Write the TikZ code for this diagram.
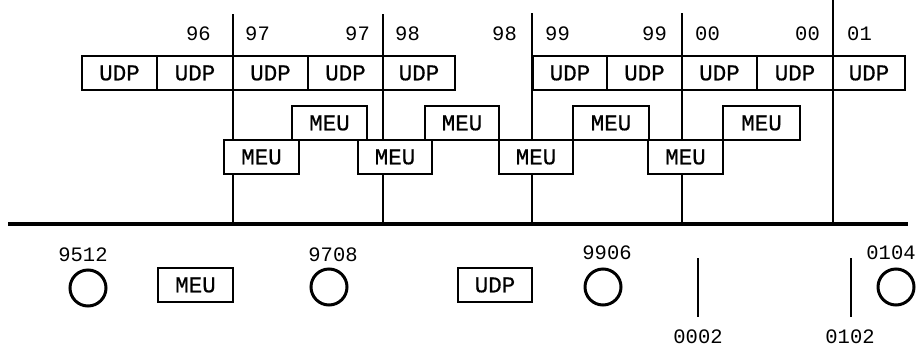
\documentclass[tikz,border=0pt]{standalone}
\usepackage{fontspec}
\newfontfamily\monofnt{Liberation Mono}
\newfontfamily\cellfnt[FakeBold=0.6]{Liberation Mono}
\begin{document}
\begin{tikzpicture}[x=1pt,y=-1pt,
  yr/.style={font=\monofnt\fontsize{20.5}{20.5}\selectfont, inner sep=0pt},
  cell/.style={draw, fill=white, line width=1.2pt, minimum height=34pt, minimum width=75pt, inner sep=0pt, font=\cellfnt\fontsize{22.5}{22.5}\selectfont},
  grid/.style={line width=1.2pt},
  ring/.style={circle, draw, line width=3pt, minimum size=36pt, inner sep=0pt},
  tick/.style={line width=1.2pt}]
\useasboundingbox (0,0) rectangle (917,351);
% base line
\coordinate (bl) at (8,224);
\coordinate (br) at (908,224);
% vertical divider lines
\coordinate (t1) at (233,14);  \coordinate (b1) at (233,224);
\coordinate (t2) at (383,14);  \coordinate (b2) at (383,224);
\coordinate (t3) at (532,13);  \coordinate (b3) at (532,224);
\coordinate (t4) at (682,13);  \coordinate (b4) at (682,224);
\coordinate (t5) at (833,0);   \coordinate (b5) at (833,224);
\foreach \i in {1,...,5} \draw[grid] (t\i) -- (b\i);
\draw[line width=4.5pt] (bl) -- (br);
% year labels
\node[yr, anchor=base east] (y96) at (211,40) {96};
\node[yr, anchor=base west] (y97a) at (245,40) {97};
\node[yr, anchor=base east] (y97b) at (370,40) {97};
\node[yr, anchor=base west] (y98a) at (395,40) {98};
\node[yr, anchor=base east] (y98b) at (517,40) {98};
\node[yr, anchor=base west] (y99a) at (545,40) {99};
\node[yr, anchor=base east] (y99b) at (667,40) {99};
\node[yr, anchor=base west] (y00a) at (695,40) {00};
\node[yr, anchor=base east] (y00b) at (820,40) {00};
\node[yr, anchor=base west] (y01) at (847,40) {01};
% UDP row
\node[cell] (u1) at (119.5,73) {UDP};
\node[cell, minimum width=76pt] (u2) at (195,73) {UDP};
\node[cell] (u3) at (270.5,73) {UDP};
\node[cell] (u4) at (345.5,73) {UDP};
\node[cell, minimum width=72pt] (u5) at (419,73) {UDP};
\node[cell, minimum width=74pt] (u6) at (570,73) {UDP};
\node[cell] (u7) at (644.5,73) {UDP};
\node[cell] (u8) at (719.5,73) {UDP};
\node[cell, minimum width=76pt] (u9) at (795,73) {UDP};
\node[cell, minimum width=72pt] (u10) at (869,73) {UDP};
% MEU staircase
\node[cell] (m2) at (329.5,123) {MEU};
\node[cell, minimum width=74pt] (m4) at (462,123) {MEU};
\node[cell, minimum width=76pt] (m6) at (611,123) {MEU};
\node[cell, minimum width=77pt] (m8) at (761.5,123) {MEU};
\node[cell] (m1) at (261.5,157) {MEU};
\node[cell, minimum width=74pt] (m3) at (395,157) {MEU};
\node[cell, minimum width=74pt] (m5) at (536,157) {MEU};
\node[cell] (m7) at (685.5,157) {MEU};
% bottom legend
\node[yr, anchor=base] (l9512) at (83,261) {9512};
\node[ring] (c9512) at (88,288) {};
\node[cell] (legm) at (195.5,285) {MEU};
\node[yr, anchor=base] (l9708) at (333,261) {9708};
\node[ring] (c9708) at (329,287) {};
\node[cell, minimum width=74pt] (legu) at (495,285) {UDP};
\node[yr, anchor=base] (l9906) at (607,259) {9906};
\node[ring] (c9906) at (603,287) {};
\node[yr, anchor=base] (l0104) at (891,259) {0104};
\node[ring] (c0104) at (896,287) {};
\coordinate (k1t) at (698,258); \coordinate (k1b) at (698,317);
\coordinate (k2t) at (851,258); \coordinate (k2b) at (851,317);
\draw[tick] (k1t) -- (k1b);
\draw[tick] (k2t) -- (k2b);
\node[yr, anchor=base] (l0002) at (698,343) {0002};
\node[yr, anchor=base] (l0102) at (850,343) {0102};
\end{tikzpicture}
\end{document}
